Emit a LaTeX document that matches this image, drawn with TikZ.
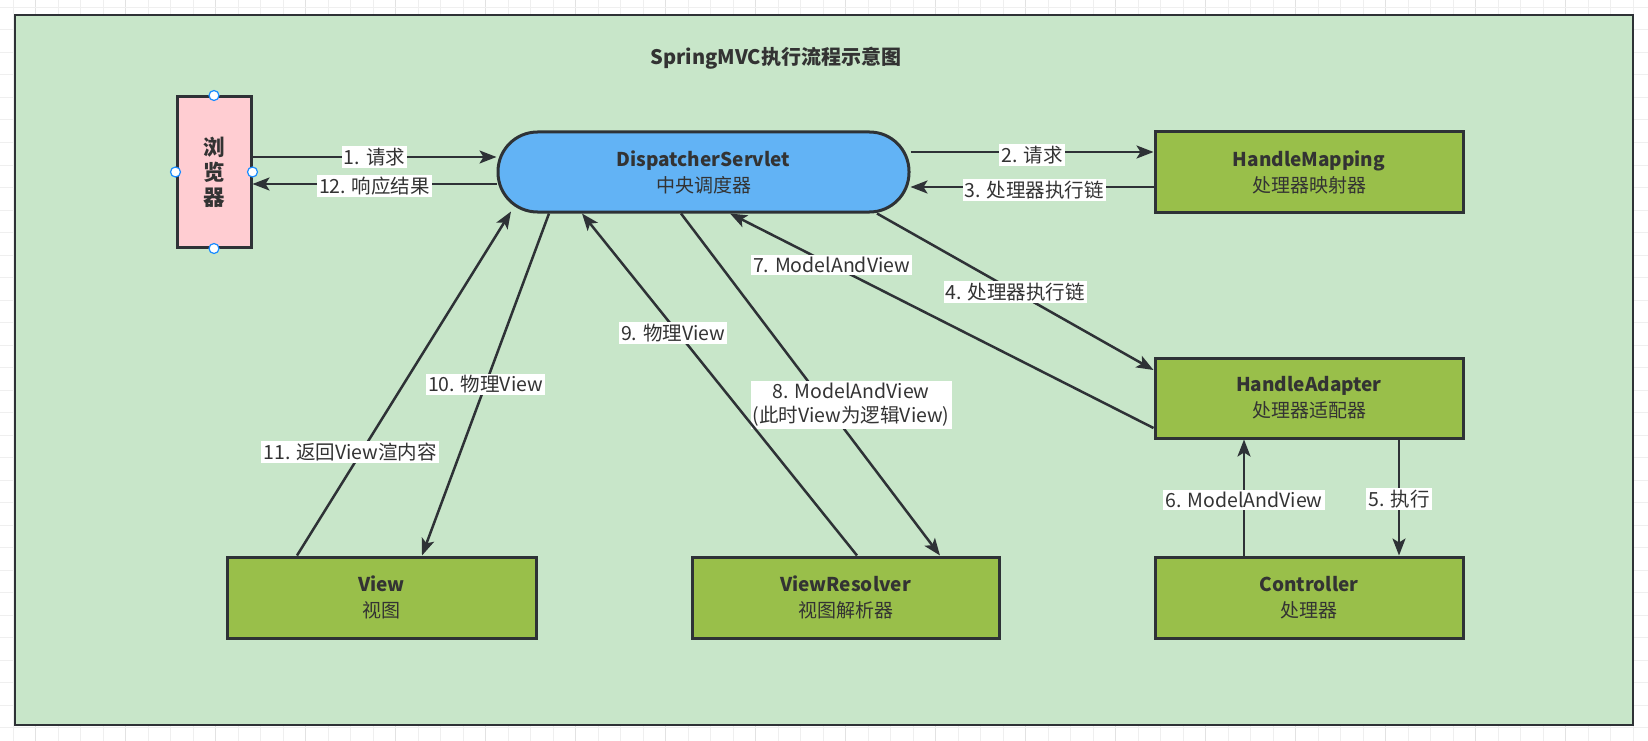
\documentclass[tikz,border=0pt]{standalone}
\usepackage{fontspec}
\setmainfont{Noto Sans CJK SC}
\usetikzlibrary{arrows.meta}
\definecolor{txt}{HTML}{333333}
\definecolor{bord}{HTML}{2E3236}
\definecolor{framefill}{HTML}{C8E6C9}
\definecolor{boxgreen}{HTML}{99BF4A}
\definecolor{dispblue}{HTML}{62B3F5}
\definecolor{brpink}{HTML}{FFCDD2}
\definecolor{handle}{HTML}{1A8CFF}
\definecolor{gridminor}{HTML}{EFEFEF}
\definecolor{gridmajor}{HTML}{E2E2E2}
\begin{document}
\begin{tikzpicture}[x=1pt,y=-1pt,
  box/.style={draw=bord, line width=3pt, fill=boxgreen, text=txt, align=center,
    minimum width=308pt, minimum height=80pt, inner sep=0pt,
    font=\fontsize{19}{26}\selectfont},
  lbl/.style={fill=white, text=txt, inner sep=2pt, align=center,
    font=\fontsize{19.5}{24}\selectfont},
  conn/.style={draw=bord, line width=2.5pt,
    -{Stealth[length=17pt,width=13pt,inset=4pt]}},
  hdl/.style={circle, draw=handle, fill=white, line width=1.2pt,
    minimum size=10pt, inner sep=0pt}]
\useasboundingbox (0,0) rectangle (1648,741);
\fill[white] (0,0) rectangle (1648,741);
% background grid
\foreach \i in {0,...,73} {
  \pgfmathtruncatemacro{\m}{mod(\i,4)}
  \ifnum\m=1 \draw[gridmajor, line width=1pt] (13.4+22.5*\i,0) -- (13.4+22.5*\i,741);
  \else \draw[gridminor, line width=1pt] (13.4+22.5*\i,0) -- (13.4+22.5*\i,741); \fi
}
\foreach \j in {0,...,32} {
  \draw[gridminor, line width=1pt] (0,7.5+22.5*\j) -- (1648,7.5+22.5*\j);
}
% frame
\draw[draw=bord, line width=2.5pt, fill=framefill] (15,15) rectangle (1633,725);
% title
\node[text=txt, font=\bfseries\fontsize{20}{24}\selectfont] (title) at (776,58) {SpringMVC执行流程示意图};
% nodes
\node[draw=bord, line width=3pt, fill=brpink, minimum width=74pt, minimum height=150pt,
  inner sep=0pt, align=center, text=txt, font=\bfseries\fontsize{21.5}{25}\selectfont]
  (br) at (214,172) {浏\\览\\器};
\node[draw=bord, line width=3pt, fill=dispblue, minimum width=411pt, minimum height=80pt,
  rounded corners=39.5pt, inner sep=0pt, align=center, text=txt,
  font=\fontsize{19}{26}\selectfont]
  (disp) at (703.5,172) {\textbf{DispatcherServlet}\\中央调度器};
\node[box] (hm) at (1309,172) {\textbf{HandleMapping}\\处理器映射器};
\node[box] (ha) at (1309,398) {\textbf{HandleAdapter}\\处理器适配器};
\node[box, minimum width=309pt, minimum height=81pt] (view) at (381.5,597.5) {\textbf{View}\\视图};
\node[box, minimum width=307pt, minimum height=81pt] (vr) at (845.5,597.5) {\textbf{ViewResolver}\\视图解析器};
\node[box, minimum height=81pt] (ctrl) at (1309,597.5) {\textbf{Controller}\\处理器};
% selection handles
\node[hdl] (h1) at (br.north) {};
\node[hdl] (h2) at (br.south) {};
\node[hdl] (h3) at (br.west) {};
\node[hdl] (h4) at (br.east) {};
% connectors
\draw[conn] ([yshift=15pt]br.east) -- node[lbl, pos=0.5] {1. 请求} ([yshift=15pt]disp.west);
\draw[conn] ([yshift=-12pt]disp.west) -- node[lbl, pos=0.5, yshift=-2pt] {12. 响应结果} ([yshift=-12pt]br.east);
\draw[conn] ([yshift=20pt]disp.east) -- node[lbl, pos=0.5, yshift=-3pt] {2. 请求} ([yshift=20pt]hm.west);
\draw[conn] ([yshift=-15pt]hm.west) -- node[lbl, pos=0.49, yshift=-3pt] {3. 处理器执行链} ([yshift=-15pt]disp.east);
\draw[conn] ([xshift=173.5pt]disp.south) -- node[lbl, pos=0.5] {4. 处理器执行链} ([yshift=28pt]ha.west);
\draw[conn] ([xshift=90pt]ha.south) -- node[lbl, pos=0.51] {5. 执行} ([xshift=90pt]ctrl.north);
\draw[conn] ([xshift=-65pt]ctrl.north) -- node[lbl, pos=0.48] {6. ModelAndView} ([xshift=-65pt]ha.south);
\draw[conn] ([yshift=-30pt]ha.west) -- node[lbl, pos=0.76] {7. ModelAndView} ([xshift=26.5pt]disp.south);
\draw[conn] ([xshift=-22.5pt]disp.south) -- node[lbl, pos=0.56, xshift=25pt] {8. ModelAndView\\(此时View为逻辑View)} ([xshift=94.5pt]vr.north);
\draw[conn] ([xshift=11.5pt]vr.north) -- node[lbl, pos=0.65, xshift=-5pt] {9. 物理View} ([xshift=-121.5pt]disp.south);
\draw[conn] ([xshift=-154.5pt]disp.south) -- node[lbl, pos=0.5] {10. 物理View} ([xshift=40.5pt]view.north);
\draw[conn] ([xshift=-84.5pt]view.north) -- node[lbl, pos=0.3, xshift=-11pt] {11. 返回View渲内容} ([xshift=-192.5pt,yshift=2pt]disp.south);
\end{tikzpicture}
\end{document}
